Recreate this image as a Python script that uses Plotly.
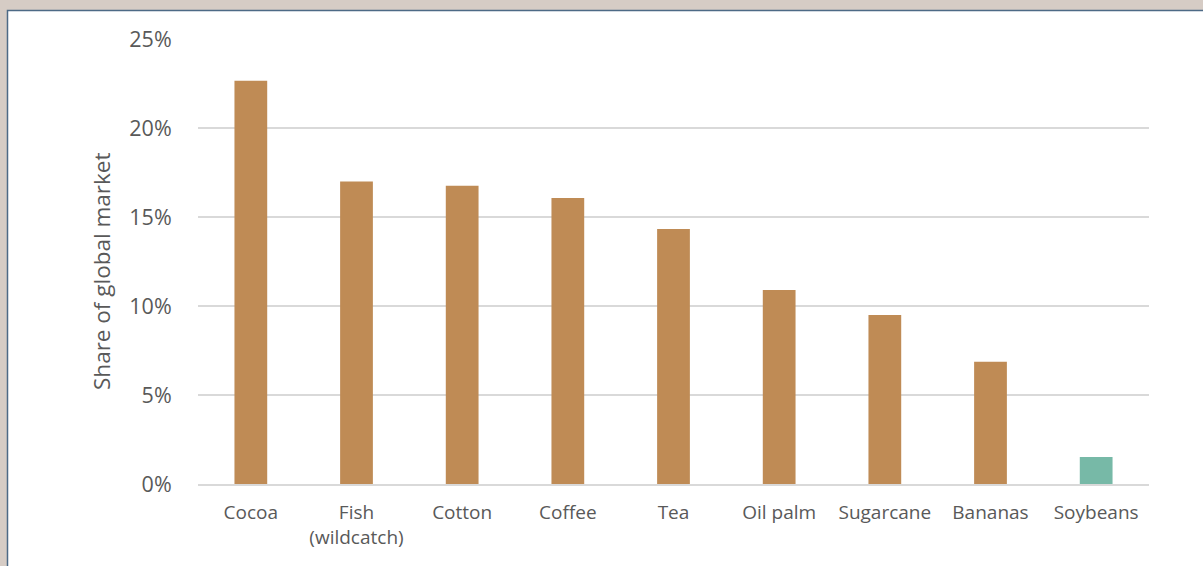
import plotly.graph_objects as go

categories = ["Cocoa", "Fish<br>(wildcatch)", "Cotton", "Coffee", "Tea", "Oil palm", "Sugarcane", "Bananas", "Soybeans"]
share = [22.65, 17.0, 16.75, 16.07, 14.33, 10.9, 9.5, 6.87, 1.52]
bar_colors = ["#bf8b55"] * 8 + ["#77b9a7"]
tick_vals = [0, 5, 10, 15, 20, 25]
tick_text = ["0%", "5%", "10%", "15%", "20%", "25%"]
y_title = "Share of global market"

W, H = 1203, 566
L, R, T, B = 198, 54, 39, 82
pw, ph = W - L - R, H - T - B

def px_x(p):
    return (p - L) / pw

def px_y(p):
    return (H - B - p) / ph

fig = go.Figure(go.Bar(
    x=categories, y=share, marker_color=bar_colors, marker_line_width=0,
    hoverinfo="x+y",
))

fig.add_shape(type="rect", xref="paper", yref="paper", layer="below",
              x0=px_x(7.5), x1=px_x(1220), y0=px_y(600), y1=px_y(10.5),
              fillcolor="white", line=dict(color="#4d6a86", width=1.5))

fig.add_annotation(text=y_title, xref="paper", yref="paper",
                   x=px_x(101), y=px_y(271), textangle=-90, showarrow=False,
                   xanchor="center", yanchor="middle",
                   font=dict(size=22.5, color="#595959"))

fig.update_layout(
    width=W, height=H,
    margin=dict(l=L, r=R, t=T, b=B, pad=0),
    paper_bgcolor="#d6ccc5",
    plot_bgcolor="rgba(0,0,0,0)",
    font=dict(family="Open Sans", size=19, color="#595959"),
    showlegend=False,
    bargap=0.69,
    xaxis=dict(showgrid=False, showline=True, linecolor="#d9d9d9", linewidth=2,
               ticks="outside", ticklen=10, tickcolor="rgba(0,0,0,0)",
               tickfont=dict(size=19), fixedrange=True),
    yaxis=dict(range=[0, 25], tickvals=tick_vals, ticktext=tick_text,
               showgrid=True, gridcolor="#d9d9d9", gridwidth=2,
               zeroline=False, showline=False, ticks="outside", ticklen=21,
               tickcolor="rgba(0,0,0,0)", tickfont=dict(size=21.5),
               fixedrange=True),
)

fig.write_html("out.html", config={"displayModeBar": False},
               post_script="document.body.style.margin='0';document.body.style.overflow='hidden';document.body.style.background='#d6ccc5';")
